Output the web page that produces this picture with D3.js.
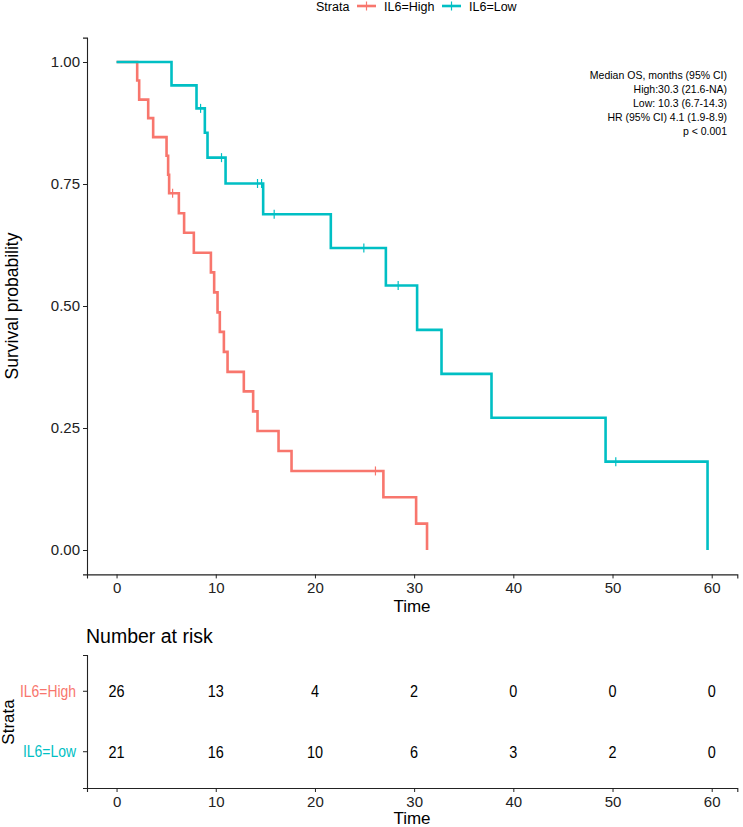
<!DOCTYPE html>
<html>
<head>
<meta charset="utf-8">
<script src="https://cdn.jsdelivr.net/npm/d3@7"></script>
<style>
  body { margin: 0; background: #fff; }
  svg { font-family: "Liberation Sans", Arial, sans-serif; }
  .axis path, .axis line { stroke: #222; }
  .axis text { fill: #222; }
</style>
</head>
<body>
<div class="graphContainer"></div>
<script>
var width = 743;
var height = 827;

// step curves (time, survival)
var highTime = [0, 2.08, 2.28, 3.19, 3.69, 5.04, 5.2, 5.3, 6.28, 6.81, 7.79, 9.51, 9.84, 10.18, 10.41, 10.82, 11.19, 12.83, 13.77, 14.21, 16.33, 17.64, 26.9, 30.2, 31.3];
var highSurv = [1, 0.962, 0.923, 0.885, 0.846, 0.808, 0.769, 0.731, 0.69, 0.65, 0.609, 0.569, 0.528, 0.487, 0.447, 0.406, 0.365, 0.325, 0.284, 0.244, 0.203, 0.162, 0.108, 0.054, 0];
var highCensor = [5.65, 26.1];

var lowTime = [0, 5.54, 8.06, 8.9, 9.17, 10.99, 14.78, 21.6, 27.15, 30.3, 32.76, 37.8, 49.3, 59.58];
var lowSurv = [1, 0.952, 0.905, 0.855, 0.804, 0.751, 0.688, 0.619, 0.542, 0.451, 0.361, 0.271, 0.181, 0];
var lowCensor = [8.47, 10.58, 14.21, 14.62, 15.89, 24.93, 28.39, 50.33];

var strata = ["IL6=High", "IL6=Low"];
var colors = ["#F8766D", "#00BFC4"];

var xTicks = [0, 10, 20, 30, 40, 50, 60];
var yTicks = [0, 0.25, 0.5, 0.75, 1];

var riskHigh = [26, 13, 4, 2, 0, 0, 0];
var riskLow = [21, 16, 10, 6, 3, 2, 0];

var annotation = [
  "Median OS, months (95% CI)",
  "High:30.3 (21.6-NA)",
  "Low: 10.3 (6.7-14.3)",
  "HR (95% CI) 4.1 (1.9-8.9)",
  "p < 0.001"
];

var svg = d3.select(".graphContainer")
  .append("svg")
  .attr("width", width)
  .attr("height", height);

var xScale = d3.scaleLinear().domain([-2.98, 62.58]).range([87, 737.3]);
var yScale = d3.scaleLinear().domain([-0.05, 1.05]).range([574.4, 37.6]);

// y axis
var yAxis = d3.axisLeft(yScale)
  .tickValues(yTicks)
  .tickFormat(d3.format(".2f"))
  .tickSizeOuter(0)
  .tickSize(4)
  .tickPadding(3);

svg.append("g")
  .attr("class", "axis")
  .attr("transform", "translate(87,0)")
  .call(yAxis)
  .selectAll("text")
  .style("font-size", "15px");

// x axis
var xAxis = d3.axisBottom(xScale)
  .tickValues(xTicks)
  .tickSizeOuter(0)
  .tickSize(4)
  .tickPadding(4);

svg.append("g")
  .attr("class", "axis")
  .attr("transform", "translate(0,574.4)")
  .call(xAxis)
  .selectAll("text")
  .style("font-size", "15px");

svg.append("text")
  .attr("transform", "translate(18,306) rotate(-90)")
  .attr("text-anchor", "middle")
  .style("font-size", "17.5px")
  .text("Survival probability");

svg.append("text")
  .attr("x", 412)
  .attr("y", 612)
  .attr("text-anchor", "middle")
  .style("font-size", "17px")
  .text("Time");

// curves
var line = d3.line()
  .x((d) => xScale(d[0]))
  .y((d) => yScale(d[1]))
  .curve(d3.curveStepAfter);

var curves = [
  { time: highTime, surv: highSurv, censor: highCensor },
  { time: lowTime, surv: lowSurv, censor: lowCensor }
];

curves.forEach(function (c, i) {
  var pts = c.time.map((t, j) => [t, c.surv[j]]);
  svg.append("path")
    .attr("d", line(pts))
    .attr("fill", "none")
    .attr("stroke", colors[i])
    .attr("stroke-width", 2.6);

  var bis = d3.bisector((d) => d).right;
  c.censor.forEach(function (t) {
    var s = c.surv[bis(c.time, t) - 1];
    var cx = xScale(t), cy = yScale(s);
    svg.append("line")
      .attr("x1", cx).attr("x2", cx)
      .attr("y1", cy - 4.5).attr("y2", cy + 4.5)
      .attr("stroke", colors[i])
      .attr("stroke-width", 1.2);
  });
});

// annotation
svg.append("g")
  .selectAll("text")
  .data(annotation)
  .enter()
  .append("text")
  .attr("x", 727)
  .attr("y", (d, i) => 79 + i * 14)
  .attr("text-anchor", "end")
  .style("font-size", "10.5px")
  .text((d) => d);

// legend
var legend = svg.append("g");
legend.append("text")
  .attr("x", 316).attr("y", 10.5)
  .style("font-size", "12.5px")
  .text("Strata");
var legendX = [[357, 384], [442, 469]];
strata.forEach(function (s, i) {
  var lx = legendX[i][0];
  legend.append("line")
    .attr("x1", lx).attr("x2", lx + 19)
    .attr("y1", 6).attr("y2", 6)
    .attr("stroke", colors[i]).attr("stroke-width", 2.6);
  legend.append("line")
    .attr("x1", lx + 9.5).attr("x2", lx + 9.5)
    .attr("y1", 1.5).attr("y2", 10.5)
    .attr("stroke", colors[i]).attr("stroke-width", 1.2);
  legend.append("text")
    .attr("x", legendX[i][1]).attr("y", 10.5)
    .style("font-size", "12.5px")
    .text(s);
});

// risk table
svg.append("text")
  .attr("x", 86).attr("y", 643)
  .style("font-size", "19.5px")
  .text("Number at risk");

var rScale = d3.scaleBand().domain(strata).range([655, 788]).paddingOuter(0.1);
var rAxis = d3.axisLeft(rScale).tickSizeOuter(0).tickSize(4).tickPadding(3);
var rAxisG = svg.append("g")
  .attr("class", "axis")
  .attr("transform", "translate(87,0)")
  .call(rAxis);
rAxisG.selectAll("text")
  .style("font-size", "17px")
  .style("fill", (d, i) => colors[i])
  .attr("transform", "translate(-4,0) scale(0.82,1)")
  .attr("x", -8.5);

var xAxis2 = d3.axisBottom(xScale)
  .tickValues(xTicks)
  .tickSizeOuter(0)
  .tickSize(4)
  .tickPadding(4);
svg.append("g")
  .attr("class", "axis")
  .attr("transform", "translate(0,788)")
  .call(xAxis2)
  .selectAll("text")
  .style("font-size", "15px");

svg.selectAll(".axis path").attr("stroke-width", 1.1);

var riskRows = [riskHigh, riskLow];
riskRows.forEach(function (row, i) {
  var ry = rScale(strata[i]) + rScale.bandwidth() / 2 + 6;
  svg.append("g")
    .selectAll("text")
    .data(row)
    .enter()
    .append("text")
    .attr("transform", (d, j) => "translate(" + xScale(xTicks[j]) + "," + ry + ") scale(0.85,1)")
    .attr("text-anchor", "middle")
    .style("font-size", "17px")
    .text((d) => d);
});

svg.append("text")
  .attr("transform", "translate(14,722) rotate(-90)")
  .attr("text-anchor", "middle")
  .style("font-size", "17px")
  .text("Strata");

svg.append("text")
  .attr("x", 412).attr("y", 824)
  .attr("text-anchor", "middle")
  .style("font-size", "17px")
  .text("Time");
</script>
</body>
</html>
